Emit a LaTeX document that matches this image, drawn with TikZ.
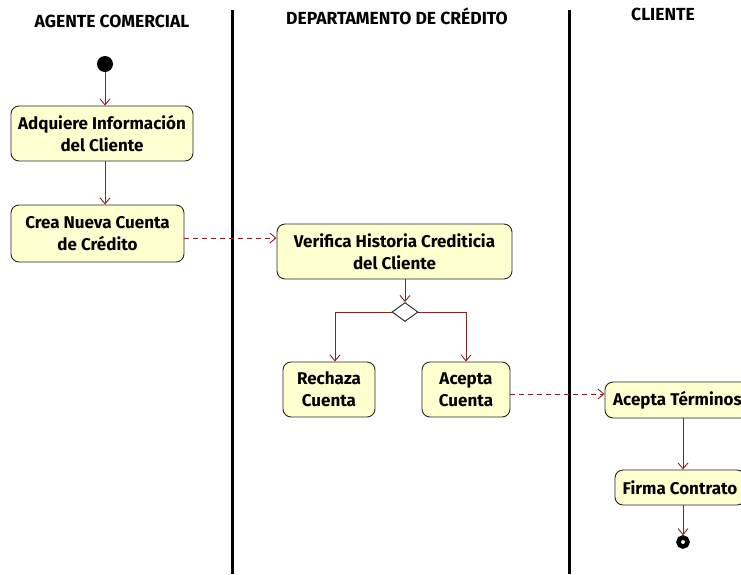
\documentclass[tikz,border=0pt]{standalone}
\usepackage{fontspec}
\setmainfont{Fira Sans}
\usetikzlibrary{arrows.meta,shapes.geometric}
\definecolor{boxfill}{RGB}{255,255,208}
\definecolor{flow}{RGB}{135,35,35}
\begin{document}
\begin{tikzpicture}[x=1pt,y=-1pt,
  act/.style={draw=black!85, line width=0.9pt, fill=boxfill, rounded corners=8pt,
    inner sep=0pt, align=center, font=\bfseries\fontsize{17}{22}\selectfont},
  flowline/.style={draw=flow, line width=0.9pt, -{Straight Barb[length=6pt,width=10pt]}},
  dashflow/.style={flowline, dash pattern=on 5pt off 4pt},
  lane/.style={line width=3pt, black},
  hdr/.style={font=\bfseries\fontsize{17.5}{19}\selectfont, inner sep=0pt},
  startnode/.style={circle, fill=black, minimum size=16pt, inner sep=0pt},
  endnode/.style={circle, draw=black, line width=4.5pt, fill=white, minimum size=9pt, inner sep=0pt},
  decision/.style={diamond, draw=black!85, line width=0.9pt, fill=white, minimum width=26pt, minimum height=19pt, inner sep=0pt}]
\useasboundingbox (0,0) rectangle (741,574);
\clip (0,0) rectangle (741,574);
\fill[white] (0,0) rectangle (741,574);

% headers
\node[hdr] (h1) at (112,21) {AGENTE COMERCIAL};
\node[hdr] (h2) at (397,16) {DEPARTAMENTO DE CRÉDITO};
\node[hdr] (h3) at (663,14) {CLIENTE};

% swimlane separators
\draw[lane] (232,10) -- (232,574);
\draw[lane] (569,10) -- (569,574);

% activities
\node[startnode] (start) at (105,64) {};
\node[act, minimum width=182pt, minimum height=55pt] (adq) at (102,133.5) {Adquiere Información\\del Cliente};
\node[act, minimum width=173pt, minimum height=57pt] (crea) at (97.5,233.5) {Crea Nueva Cuenta\\de Crédito};
\node[act, minimum width=235pt, minimum height=55pt] (verif) at (394.5,251.5) {Verifica Historia Crediticia\\del Cliente};
\node[decision] (dec) at (405,312) {};
\node[act, minimum width=92pt, minimum height=55pt] (rech) at (329,389.5) {Rechaza\\Cuenta};
\node[act, minimum width=88pt, minimum height=55pt] (acep) at (466,389.5) {Acepta\\Cuenta};
\node[act, minimum width=145pt, minimum height=36pt] (term) at (677.5,400) {Acepta Términos};
\node[act, minimum width=130pt, minimum height=35pt] (firma) at (680,487.5) {Firma Contrato};
\node[endnode] (fin) at (683,542) {};

% helper coordinates
\coordinate (y238) at (0,238);
\coordinate (y394) at (0,394);

% connectors
\draw[flowline] (start) -- (start |- adq.north);
\draw[flowline] (adq.south -| start) -- (crea.north -| start);
\draw[dashflow] (crea.east |- y238) -- (verif.west |- y238);
\draw[flowline] (verif.south -| dec) -- (dec.north);
\draw[flowline] (dec.west) -| ([xshift=6pt]rech.north);
\draw[flowline] (dec.east) -| (acep.north);
\draw[dashflow] (acep.east |- y394) -- (term.west |- y394);
\draw[flowline] (term.south -| fin) -- (firma.north -| fin);
\draw[flowline] (firma.south -| fin) -- (fin.north);
\end{tikzpicture}
\end{document}
